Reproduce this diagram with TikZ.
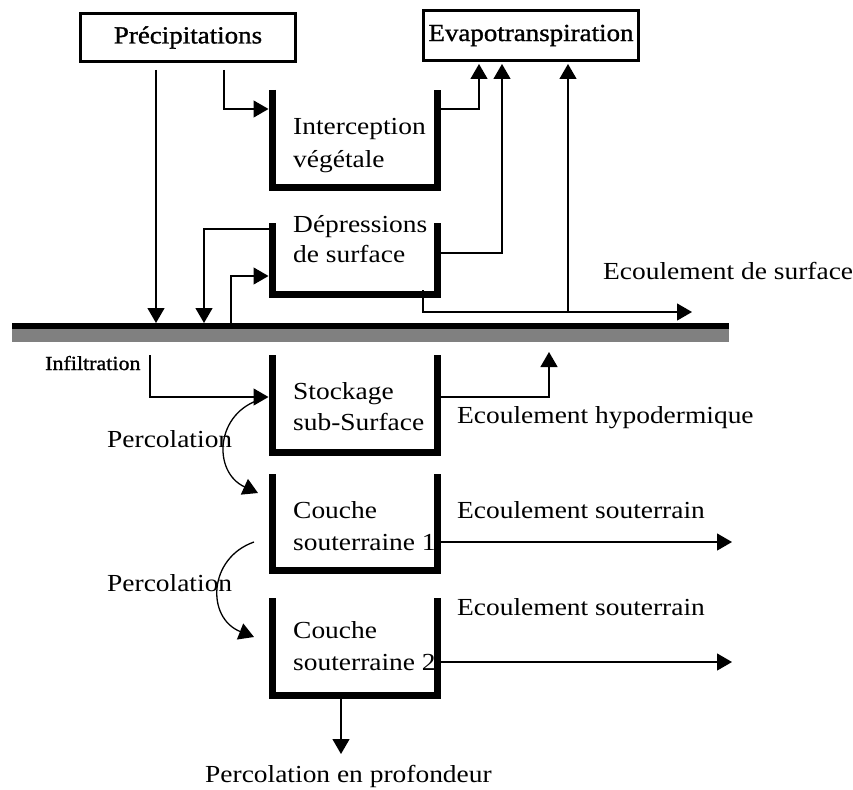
\documentclass[tikz,border=0pt]{standalone}
\usepackage{fontspec}
\setmainfont{Liberation Serif}[FakeStretch=1.12]
\newfontfamily\heavyserif{Liberation Serif}[FakeStretch=1.1,FakeBold=1.2]
\usetikzlibrary{arrows.meta}
\begin{document}
\begin{tikzpicture}[x=1pt,y=-1pt,
  ln/.style={line width=1.3pt},
  arr/.style={line width=1.3pt,-{Triangle[length=15pt,width=17pt]}},
  bucketline/.style={line width=7pt, line join=miter},
  topbox/.style={draw, line width=3pt, inner sep=0pt, minimum width=215pt, font=\heavyserif\fontsize{24.5}{29}\selectfont},
  bk/.style={inner sep=0pt, outer sep=0pt, minimum width=165pt},
  lbl/.style={font=\fontsize{24.5}{29}\selectfont, anchor=base west, inner sep=0pt},
  small/.style={font=\heavyserif\fontsize{20}{24}\selectfont, anchor=base west, inner sep=0pt}
]
\useasboundingbox (0,0) rectangle (853,789);

% top boxes
\node[topbox, minimum height=48pt] (prec) at (188,37.5) {Précipitations};
\node[topbox, minimum height=50pt] (evap) at (531,35.5) {Evapotranspiration};

% ground
\node[fill=black, inner sep=0pt, minimum width=717pt, minimum height=6pt] (ground) at (370.5,326) {};
\node[fill=black!50, inner sep=0pt, minimum width=717pt, minimum height=13pt] (soil) at (370.5,335.5) {};

% buckets
\node[bk, minimum height=97pt] (inter) at (354.5,138.5) {};
\node[bk, minimum height=71pt] (dep) at (354.5,258.5) {};
\node[bk, minimum height=97pt] (stock) at (354.5,403.5) {};
\node[bk, minimum height=96pt] (c1) at (354.5,522) {};
\node[bk, minimum height=97pt] (c2) at (354.5,646.5) {};
\foreach \b in {inter,dep,stock,c1,c2}
  \draw[bucketline] (\b.north west) -- (\b.south west) -- (\b.south east) -- (\b.north east);

% bucket labels
\node[lbl] (t1a) at (293,135) {Interception};
\node[lbl] (t1b) at (293,167) {végétale};
\node[lbl] (t2a) at (293,232) {Dépressions};
\node[lbl] (t2b) at (293,262) {de surface};
\node[lbl] (t3a) at (293,399) {Stockage};
\node[lbl] (t3b) at (293,430) {sub-Surface};
\node[lbl] (t4a) at (293,518) {Couche};
\node[lbl] (t4b) at (293,550) {souterraine 1};
\node[lbl] (t5a) at (293,638) {Couche};
\node[lbl] (t5b) at (293,670) {souterraine 2};

% other labels
\node[lbl] (es) at (603,279) {Ecoulement de surface};
\node[lbl] (eh) at (457,423) {Ecoulement hypodermique};
\node[lbl] (es1) at (457,518) {Ecoulement souterrain};
\node[lbl] (es2) at (457,615) {Ecoulement souterrain};
\node[lbl] (perc1) at (107,447) {Percolation};
\node[lbl] (perc2) at (107,591) {Percolation};
\node[lbl] (pp) at (205,782) {Percolation en profondeur};
\node[small] (inf) at (45,370) {Infiltration};

% coordinates
\coordinate (a1) at (156,70);
\coordinate (a2) at (224,70);
\coordinate (a3) at (224,109);
\coordinate (i1) at (268.5,109);
\coordinate (i2) at (440.5,109);
\coordinate (i3) at (479,109);
\coordinate (e1) at (479,64);
\coordinate (d1) at (440.5,253);
\coordinate (d2) at (502,253);
\coordinate (e2) at (502,64);
\coordinate (g1) at (568,312);
\coordinate (e3) at (568,64);
\coordinate (d3) at (268.5,229);
\coordinate (d4) at (204,229);
\coordinate (g2) at (204,323);
\coordinate (g3) at (231,323);
\coordinate (d5) at (231,276);
\coordinate (d6) at (268.5,276);
\coordinate (r1) at (423,290);
\coordinate (r2) at (423,312);
\coordinate (r3) at (692,312);
\coordinate (g0) at (156,323);
\coordinate (f1) at (150,355);
\coordinate (f2) at (150,397);
\coordinate (s1) at (268.5,397);
\coordinate (s2) at (440.5,397);
\coordinate (s3) at (549,397);
\coordinate (h1) at (549,352);
\coordinate (p1) at (262,399);
\coordinate (p2) at (258,493);
\coordinate (p3) at (254,542);
\coordinate (p4) at (254,637);
\coordinate (c1a) at (440.5,542);
\coordinate (c1b) at (732,542);
\coordinate (c2a) at (440.5,662);
\coordinate (c2b) at (732,662);
\coordinate (c2c) at (341,698.5);
\coordinate (c2d) at (341,754);

% connectors
\draw[arr] (a1) -- (g0);
\draw[arr] (a2) -- (a3) -- (i1);
\draw[arr] (i2) -- (i3) -- (e1);
\draw[arr] (d1) -- (d2) -- (e2);
\draw[arr] (g1) -- (e3);
\draw[arr] (d3) -- (d4) -- (g2);
\draw[arr] (g3) -- (d5) -- (d6);
\draw[arr] (r1) -- (r2) -- (r3);
\draw[arr] (f1) -- (f2) -- (s1);
\draw[arr] (s2) -- (s3) -- (h1);
\draw[arr] (p1) .. controls (215,412) and (212,472) .. (p2);
\draw[arr] (p3) .. controls (208,558) and (206,618) .. (p4);
\draw[arr] (c1a) -- (c1b);
\draw[arr] (c2a) -- (c2b);
\draw[arr] (c2c) -- (c2d);
\end{tikzpicture}
\end{document}
